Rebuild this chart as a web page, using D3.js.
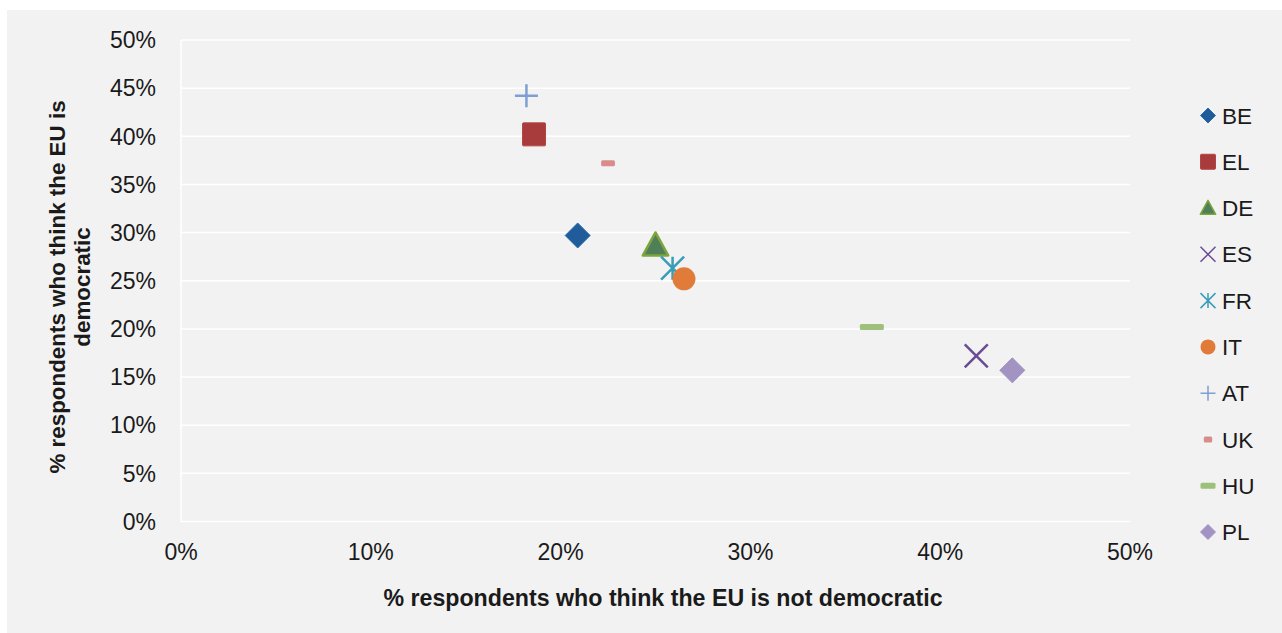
<!DOCTYPE html>
<html><head><meta charset="utf-8">
<script src="https://cdn.jsdelivr.net/npm/d3@7"></script>
<style>body{margin:0;background:#fff}svg{display:block}</style>
</head><body>
<svg id="c" width="1282" height="633"></svg>
<script>
const countries = ["BE","EL","DE","ES","FR","IT","AT","UK","HU","PL"];
const notDemocratic = [0.209,0.186,0.250,0.419,0.259,0.265,0.182,0.225,0.364,0.438];
const democratic = [0.297,0.402,0.287,0.172,0.263,0.252,0.442,0.372,0.202,0.157];
const xTicks = [0,0.1,0.2,0.3,0.4,0.5];
const yTicks = [0,0.05,0.1,0.15,0.2,0.25,0.3,0.35,0.4,0.45,0.5];
const markers = ["diamond","square","triangle","x","asterisk","circle","plus","dashSmall","dash","diamond"];
const fills = ["#1F5C99","#A83B3B","#4F7F58","#6A4C93","#3A9DB8","#E07B39","#7F9ED4","#D98C8C","#9DC07B","#A393C2"];
const strokes = ["#2A6AAE","#B44545","#7EA43E","#6A4C93","#3A9DB8","#E07B39","#7F9ED4","#D98C8C","#9DC07B","#A393C2"];

const svg = d3.select("#c");
svg.append("rect").attr("x",7).attr("y",10).attr("width",1275).attr("height",623).attr("fill","#f2f2f2");

const x = d3.scaleLinear().domain([0,0.5]).range([181,1130]);
const y = d3.scaleLinear().domain([0,0.5]).range([521.5,40]);
const pct = d3.format(".0%");

// gridlines
svg.append("g").selectAll("line").data(yTicks).join("line")
  .attr("x1",x(0)).attr("x2",x(0.5)).attr("y1",d=>y(d)).attr("y2",d=>y(d))
  .attr("stroke","#ffffff").attr("stroke-width",1.5);
svg.append("line").attr("x1",x(0)).attr("x2",x(0)).attr("y1",y(0)).attr("y2",y(0.5))
  .attr("stroke","#ffffff").attr("stroke-width",1.5);

const font = "'Liberation Sans', Arial, sans-serif";
// y tick labels
svg.append("g").selectAll("text").data(yTicks).join("text")
  .attr("x",156).attr("y",d=>y(d)).attr("dy","0.36em").attr("text-anchor","end")
  .attr("font-family",font).attr("font-size",23).attr("fill","#1a1a1a").text(pct);
// x tick labels
svg.append("g").selectAll("text").data(xTicks).join("text")
  .attr("x",d=>x(d)).attr("y",560).attr("text-anchor","middle")
  .attr("font-family",font).attr("font-size",23).attr("fill","#1a1a1a").text(pct);

// axis titles
svg.append("text").attr("x",663).attr("y",606).attr("text-anchor","middle")
  .attr("font-family",font).attr("font-size",23.2).attr("font-weight","bold").attr("fill","#1a1a1a")
  .text("% respondents who think the EU is not democratic");
const yt = svg.append("text").attr("transform","translate(0,287) rotate(-90)")
  .attr("text-anchor","middle").attr("font-family",font).attr("font-size",22.4).attr("font-weight","bold").attr("fill","#1a1a1a");
yt.append("tspan").attr("x",0).attr("y",65).text("% respondents who think the EU is");
yt.append("tspan").attr("x",0).attr("y",90).text("democratic");

function drawMarker(g, type, s, fill, stroke){
  switch(type){
    case "diamond":
      g.append("path").attr("d",`M0,${-s/2}L${s/2},0L0,${s/2}L${-s/2},0Z`).attr("fill",fill).attr("stroke",stroke).attr("stroke-width",1); break;
    case "square":
      g.append("rect").attr("x",-s/2).attr("y",-s/2).attr("width",s).attr("height",s).attr("rx",1).attr("fill",fill).attr("stroke",stroke).attr("stroke-width",1); break;
    case "triangle":
      g.append("path").attr("d",`M0,${-s*0.55}L${s*0.55},${s*0.45}L${-s*0.55},${s*0.45}Z`).attr("fill",fill).attr("stroke",stroke).attr("stroke-width",s>16?2.5:1.5).attr("stroke-linejoin","round"); break;
    case "x":
      g.append("path").attr("d",`M${-s/2},${-s/2}L${s/2},${s/2}M${s/2},${-s/2}L${-s/2},${s/2}`).attr("stroke",stroke).attr("stroke-width",s>16?2.5:1.5).attr("fill","none"); break;
    case "asterisk":
      g.append("path").attr("d",`M${-s/2},${-s/2}L${s/2},${s/2}M${s/2},${-s/2}L${-s/2},${s/2}M0,${-s/2}L0,${s/2}`).attr("stroke",stroke).attr("stroke-width",s>16?2.5:1.5).attr("fill","none"); break;
    case "circle":
      g.append("circle").attr("r",s/2).attr("fill",fill); break;
    case "plus":
      g.append("path").attr("d",`M${-s/2},0L${s/2},0M0,${-s/2}L0,${s/2}`).attr("stroke",stroke).attr("stroke-width",s>16?2.5:1.5).attr("fill","none"); break;
    case "dashSmall":
      g.append("rect").attr("x",-s*0.3).attr("y",-3).attr("width",s*0.6).attr("height",6).attr("rx",1.5).attr("fill",fill); break;
    case "dash":
      g.append("rect").attr("x",-s/2).attr("y",-3).attr("width",s).attr("height",6).attr("rx",1.5).attr("fill",fill); break;
  }
}
const plotSizes = {diamond:25,square:23,triangle:23,x:23,asterisk:23,circle:23,plus:23,dashSmall:23,dash:24};
countries.forEach((c,i)=>{
  const g = svg.append("g").attr("transform",`translate(${x(notDemocratic[i])},${y(democratic[i])})`);
  drawMarker(g, markers[i], plotSizes[markers[i]], fills[i], strokes[i]);
});

// legend
const legY = d3.scalePoint().domain(countries).range([115.5,532]);
countries.forEach((c,i)=>{
  const g = svg.append("g").attr("transform",`translate(1208,${legY(c)})`);
  const ls = {diamond:15,square:15,triangle:14,x:15,asterisk:15,circle:15,plus:15,dashSmall:14,dash:15}[markers[i]];
  drawMarker(g, markers[i], ls, fills[i], strokes[i]);
  svg.append("text").attr("x",1222).attr("y",legY(c)).attr("dy","0.36em")
    .attr("font-family",font).attr("font-size",22.5).attr("fill","#1a1a1a").text(c);
});
</script>
</body></html>
